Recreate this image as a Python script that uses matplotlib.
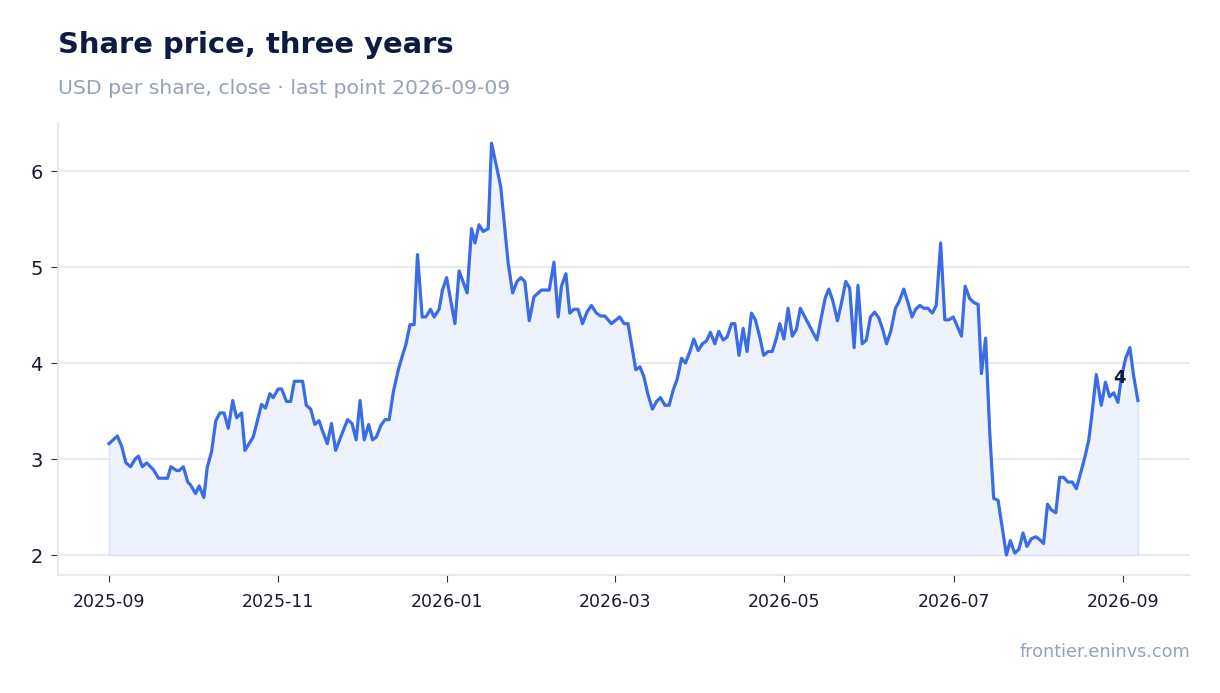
import numpy as np
import matplotlib
matplotlib.use("Agg")
import matplotlib.pyplot as plt

# closing prices, days counted from 2025-09-01
days = [0, 3.0, 4.6, 6.1, 7.8, 9.4, 10.6, 12.0, 13.6, 16.0, 17.9, 21.1, 22.3, 24.4, 25.3,
        26.8, 28.4, 29.4, 31.2, 32.5, 34.2, 35.4, 37.0, 38.5, 40.0, 41.5, 43.0, 44.6, 46.0,
        47.8, 49.0, 52.0, 55.0, 56.4, 58.0, 59.2, 61.0, 62.2, 64.0, 65.5, 66.8, 69.8, 71.1,
        72.7, 74.2, 75.7, 77.0, 78.7, 80.2, 81.7, 83.8, 86.0, 87.6, 89.1, 90.5, 92.0, 93.6,
        95.0, 96.4, 98.0, 99.5, 101.0, 102.5, 104.3, 105.8, 107.0, 108.5, 110.0, 111.2,
        112.9, 114.2, 115.9, 117.2, 119.0, 120.2, 121.7, 124.7, 126.2, 129.1, 130.7, 131.9,
        133.4, 134.9, 136.7, 137.9, 141.2, 143.9, 145.5, 147.1, 148.5, 149.9, 151.5, 153.2,
        155.9, 158.7, 160.4, 161.9, 163.1, 164.7, 166.1, 167.6, 169.1, 170.7, 172.3, 173.9,
        175.7, 177.2, 178.7, 181.1, 184.1, 185.7, 187.1, 189.9, 191.4, 192.8, 194.3, 195.9,
        197.4, 198.8, 200.4, 201.9, 203.4, 204.8, 206.4, 207.8, 209.4, 210.8, 212.4, 213.9,
        215.4, 216.8, 218.4, 219.8, 221.4, 222.8, 224.4, 225.6, 227.1, 228.6, 230.0, 231.6,
        233.0, 234.6, 236.0, 237.6, 239.1, 240.6, 241.8, 243.3, 244.8, 246.3, 247.8, 249.2,
        255.2, 256.8, 258.2, 259.5, 261.0, 262.6, 264.0, 265.6, 267.0, 268.6, 270.0, 271.5,
        273.0, 274.5, 276.0, 277.5, 278.8, 280.3, 281.8, 283.5, 284.8, 286.5, 288.0, 289.5,
        290.8, 292.3, 293.8, 295.2, 296.8, 298.2, 299.8, 301.3, 302.8, 304.3, 305.7, 307.3,
        308.6, 310.3, 311.8, 313.3, 314.5, 316.0, 317.5, 318.9, 320.5, 323.5, 324.9, 326.5,
        328.0, 329.5, 330.9, 332.5, 334.1, 335.5, 336.9, 338.3, 339.7, 341.3, 342.7, 344.1,
        345.7, 347.3, 348.7, 350.3, 351.7, 353.2, 354.5, 355.9, 357.7, 359.2, 360.7, 362.2,
        363.7, 365.0, 366.5, 368.0, 369.4, 370.9]
price = [3.16, 3.24, 3.13, 2.96, 2.92, 3.00, 3.03, 2.92, 2.96, 2.89, 2.80, 2.80, 2.92, 2.88, 2.88,
         2.92, 2.76, 2.73, 2.64, 2.72, 2.60, 2.91, 3.08, 3.40, 3.48, 3.48, 3.32, 3.61, 3.43,
         3.48, 3.09, 3.23, 3.57, 3.53, 3.68, 3.64, 3.73, 3.73, 3.60, 3.60, 3.81, 3.81, 3.56,
         3.52, 3.36, 3.40, 3.29, 3.16, 3.37, 3.09, 3.25, 3.41, 3.37, 3.20, 3.61, 3.20, 3.36,
         3.20, 3.23, 3.35, 3.41, 3.41, 3.70, 3.93, 4.08, 4.19, 4.40, 4.40, 5.13,
         4.48, 4.48, 4.56, 4.48, 4.56, 4.76, 4.89, 4.41, 4.96, 4.73, 5.40, 5.25,
         5.44, 5.37, 5.40, 6.29, 5.84, 5.04, 4.73, 4.85, 4.89, 4.85, 4.44, 4.69,
         4.76, 4.76, 5.05, 4.48, 4.80, 4.93, 4.52, 4.56, 4.56, 4.41, 4.53, 4.60,
         4.52, 4.49, 4.49, 4.41, 4.48, 4.41, 4.41, 3.93, 3.96, 3.86, 3.67, 3.52,
         3.60, 3.64, 3.56, 3.56, 3.72, 3.83, 4.05, 4.00, 4.12, 4.25, 4.13, 4.20,
         4.23, 4.32, 4.20, 4.33, 4.24, 4.27, 4.41, 4.41, 4.08, 4.36, 4.12, 4.52,
         4.45, 4.27, 4.08, 4.12, 4.12, 4.26, 4.41, 4.25, 4.57, 4.28, 4.35, 4.57,
         4.24, 4.48, 4.68, 4.77, 4.64, 4.44, 4.62, 4.85, 4.78, 4.16, 4.81, 4.20,
         4.24, 4.48, 4.53, 4.47, 4.36, 4.20, 4.33, 4.57, 4.64, 4.77, 4.63, 4.48,
         4.56, 4.60, 4.57, 4.57, 4.52, 4.60, 5.25, 4.45, 4.45, 4.48, 4.39, 4.28,
         4.80, 4.67, 4.63, 4.61, 3.89, 4.26, 3.27, 2.59, 2.57, 2.00, 2.15, 2.02,
         2.06, 2.23, 2.09, 2.17, 2.19, 2.16, 2.12, 2.53, 2.47, 2.44, 2.81, 2.81,
         2.76, 2.76, 2.69, 2.86, 3.01, 3.20, 3.51, 3.88, 3.56, 3.80, 3.65, 3.69,
         3.59, 3.86, 4.05, 4.16, 3.86, 3.61]

# month ticks sit evenly spaced on the original axis
tick_days = [0, 61, 122, 182.5, 243.5, 304.5, 365.5]
tick_labels = ["2025-09", "2025-11", "2026-01", "2026-03", "2026-05", "2026-07", "2026-09"]
yticks = [2, 3, 4, 5, 6]
label_text = "4"
label_day = 364.3
label_value = 3.84

x = np.array(days)
y = np.array(price)

LINE = "#3a6ce8"
NAVY = "#0d1b40"
MUTED = "#94a3b8"
GRID = "#e2e8f0"

fig = plt.figure(figsize=(12.2, 6.93), dpi=100)
ax = fig.add_axes([0.0475, 0.170, 0.9275, 0.6525])

ax.fill_between(x, y, y.min(), facecolor="#eef2fd", edgecolor="#d6e0fa", linewidth=1, zorder=1)
ax.plot(x, y, color=LINE, linewidth=2.3, solid_joinstyle="round", zorder=3)

ax.text(label_day, label_value, label_text, fontsize=13, fontweight="bold", color=NAVY,
        ha="center", va="center", zorder=4)

ax.set_xlim(-18.4, 389.5)
ax.set_ylim(1.79, 6.5)
ax.set_yticks(yticks)
ax.set_xticks(tick_days)
ax.set_xticklabels(tick_labels)

ax.grid(axis="y", color=GRID, linewidth=1.2, zorder=0)
ax.set_axisbelow(True)
for s in ["top", "right"]:
    ax.spines[s].set_visible(False)
for s in ["left", "bottom"]:
    ax.spines[s].set_color(GRID)
    ax.spines[s].set_linewidth(1.2)
ax.tick_params(axis="y", labelsize=14, colors="#333333", labelcolor="#1a1a2e", length=5, pad=6)
ax.tick_params(axis="x", labelsize=12.5, colors="#333333", labelcolor="#1a1a2e", length=5, pad=8)

fig.text(58 / 1220, 1 - 45 / 693, "Share price, three years", fontsize=20.9, fontweight="bold",
         color=NAVY, ha="left", va="center")
fig.text(58 / 1220, 1 - 88 / 693, "USD per share, close \u00b7 last point 2026-09-09", fontsize=14.7,
         color=MUTED, ha="left", va="center")
fig.text(1190 / 1220, 1 - 652 / 693, "frontier.eninvs.com", fontsize=12.7, color=MUTED,
         ha="right", va="center")

fig.savefig("out.png", dpi=100, facecolor="white")
